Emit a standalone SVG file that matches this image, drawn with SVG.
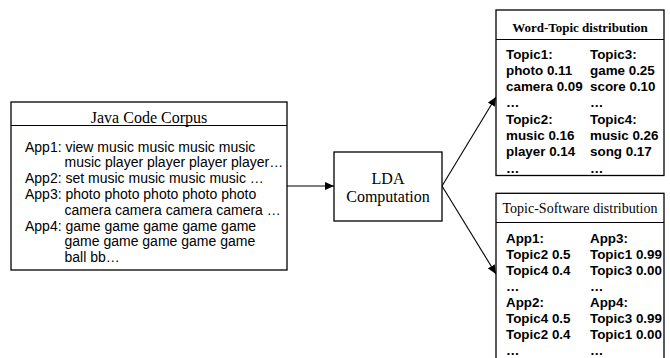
<svg xmlns="http://www.w3.org/2000/svg" width="670" height="358" viewBox="0 0 670 358">
<style>
.box{fill:#fff;stroke:#000;stroke-width:1.3}
.div{stroke:#000;stroke-width:1}
.serif{font-family:"Liberation Serif","Times New Roman",serif;fill:#000}
.sans{font-family:"Liberation Sans",Arial,sans-serif;font-size:13.4px;fill:#000;white-space:pre}
.lt{font-size:14px}
.b{font-weight:bold}
.edge{stroke:#000;stroke-width:1.1;fill:none}
</style>
<defs>
<marker id="ah" markerUnits="userSpaceOnUse" markerWidth="10" markerHeight="8" refX="9" refY="4" orient="auto">
<path d="M0,0 L9,4 L0,8 Z" fill="#000"/>
</marker>
</defs>
<g id="connectors">
<line class="edge" x1="287" y1="186" x2="334" y2="186" marker-end="url(#ah)"/>
<line class="edge" x1="442" y1="186" x2="496" y2="97" marker-end="url(#ah)"/>
<line class="edge" x1="442" y1="186" x2="496" y2="274" marker-end="url(#ah)"/>
</g>
<g id="corpus">
<rect class="box" x="11" y="102" width="276" height="168"/>
<line class="div" x1="11" y1="125.5" x2="287" y2="125.5"/>
<text class="serif" x="149" y="123" font-size="16" text-anchor="middle">Java Code Corpus</text>
<g class="sans lt">
<text x="25" y="151.5">App1: view music music music  music</text>
<text x="64.5" y="167.3">music player player player player…</text>
<text x="25" y="183.1">App2: set music music music music …</text>
<text x="25" y="198.9">App3: photo photo photo photo photo</text>
<text x="64.5" y="214.7">camera camera camera camera …</text>
<text x="25" y="230.5">App4: game game game game game</text>
<text x="64.5" y="246.3">game game game game  game</text>
<text x="64.5" y="262.1">ball bb…</text>
</g>
</g>
<g id="lda">
<rect class="box" x="334" y="152" width="108" height="69"/>
<text class="serif" x="388" y="184" font-size="16" text-anchor="middle">LDA</text>
<text class="serif" x="388" y="201.5" font-size="16" text-anchor="middle">Computation</text>
</g>
<g id="word-topic">
<rect class="box" x="496" y="10" width="168" height="165.5"/>
<line class="div" x1="496" y1="39.5" x2="664" y2="39.5"/>
<text class="serif b" x="580" y="31.5" font-size="13" text-anchor="middle">Word-Topic distribution</text>
<g class="sans b">
<text x="506" y="58.5">Topic1:</text>
<text x="506" y="74.8">photo 0.11</text>
<text x="506" y="91.1">camera  0.09</text>
<text x="506" y="107.4">…</text>
<text x="506" y="123.7">Topic2:</text>
<text x="506" y="140">music 0.16</text>
<text x="506" y="156.3">player 0.14</text>
<text x="506" y="172.6">…</text>
<text x="590" y="58.5">Topic3:</text>
<text x="590" y="74.8">game 0.25</text>
<text x="590" y="91.1">score  0.10</text>
<text x="590" y="107.4">…</text>
<text x="590" y="123.7">Topic4:</text>
<text x="590" y="140">music 0.26</text>
<text x="590" y="156.3">song 0.17</text>
<text x="590" y="172.6">…</text>
</g>
</g>
<g id="topic-software">
<rect class="box" x="496" y="193.3" width="168" height="175"/>
<line class="div" x1="496" y1="222.5" x2="664" y2="222.5"/>
<text class="serif" x="580" y="212.7" font-size="14" text-anchor="middle">Topic-Software distribution</text>
<g class="sans b">
<text x="506" y="242.5">App1:</text>
<text x="506" y="258.6">Topic2  0.5</text>
<text x="506" y="274.7">Topic4  0.4</text>
<text x="506" y="290.8">…</text>
<text x="506" y="306.9">App2:</text>
<text x="506" y="323">Topic4  0.5</text>
<text x="506" y="339.1">Topic2  0.4</text>
<text x="506" y="355.2">…</text>
<text x="590" y="242.5">App3:</text>
<text x="590" y="258.6">Topic1 0.99</text>
<text x="590" y="274.7">Topic3 0.00</text>
<text x="590" y="290.8">…</text>
<text x="590" y="306.9">App4:</text>
<text x="590" y="323">Topic3 0.99</text>
<text x="590" y="339.1">Topic1 0.00</text>
<text x="590" y="355.2">…</text>
</g>
</g>
</svg>
